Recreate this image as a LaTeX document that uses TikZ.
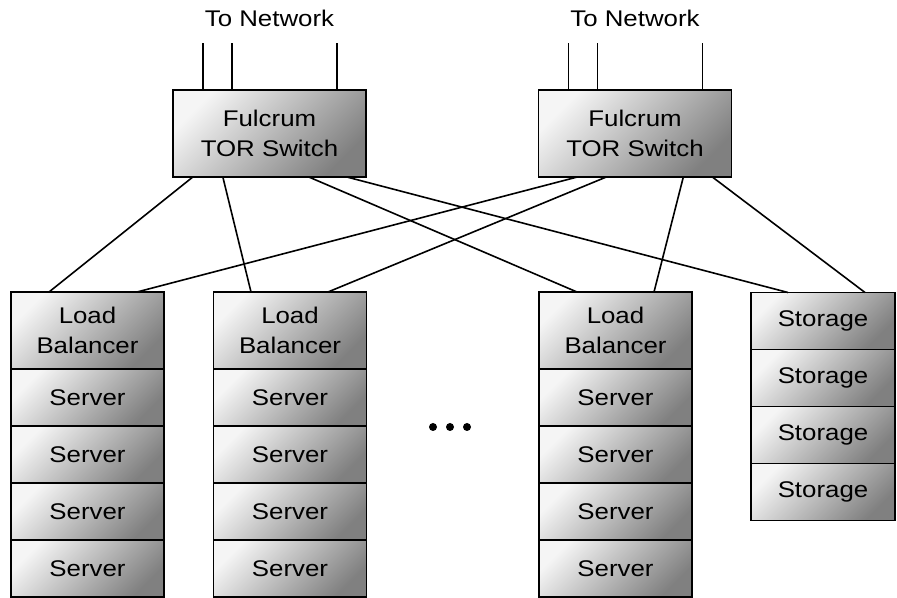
\documentclass[tikz,border=0pt]{standalone}
\usepackage{fontspec}
\setmainfont{Liberation Sans}[FakeStretch=1.14]
\usetikzlibrary{positioning,calc}

\begin{document}
\begin{tikzpicture}[x=0.75pt,y=-0.75pt,line width=1.2pt,
  unit/.style={draw,outer sep=0pt,inner sep=0pt,align=center,
    top color=white!96!black,bottom color=black!50,shading angle=45,
    font=\fontsize{17}{22.5}\selectfont},
  switch/.style={unit,minimum width=145pt,minimum height=65.25pt},
  balancer/.style={unit,minimum width=114.75pt,minimum height=57.75pt},
  server/.style={unit,minimum width=114.75pt,minimum height=42.75pt},
  storage/.style={unit,minimum width=108pt,minimum height=42.75pt},
  label/.style={font=\fontsize{17}{22.5}\selectfont}]

\useasboundingbox (0,0) rectangle (897,598);

% switches
\node[switch] (sw1) at (269.5,133.5) {Fulcrum\\TOR Switch};
\node[switch] (sw2) at (635,133.5) {Fulcrum\\TOR Switch};

% uplinks
\node[label] (net1) at (269.5,18.5) {To Network};
\node[label] (net2) at (635,18.5) {To Network};
\foreach \s in {sw1,sw2}
  \foreach \dx in {30,59,164}
    \draw ($(\s.north west)+(\dx,0)$) -- ++(0,-47);

% racks of servers
\node[balancer] (lb1) at (87.5,330.5) {Load\\Balancer};
\node[balancer] (lb2) at (290,330.5) {Load\\Balancer};
\node[balancer] (lb3) at (615.5,330.5) {Load\\Balancer};
\foreach \c in {1,2,3}{
  \node[server,below=0pt of lb\c] (srv\c-1) {Server};
  \node[server,below=0pt of srv\c-1] (srv\c-2) {Server};
  \node[server,below=0pt of srv\c-2] (srv\c-3) {Server};
  \node[server,below=0pt of srv\c-3] (srv\c-4) {Server};
}

% storage
\node[storage] (st1) at (823,321) {Storage};
\node[storage,below=0pt of st1] (st2) {Storage};
\node[storage,below=0pt of st2] (st3) {Storage};
\node[storage,below=0pt of st3] (st4) {Storage};

% links from the switches
\draw ($(sw1.south west)+(20,0)$) -- ($(lb1.north west)+(38,0)$);
\draw ($(sw1.south west)+(50,0)$) -- ($(lb2.north west)+(37.5,0)$);
\draw ($(sw1.south west)+(136,0)$) -- ($(lb3.north west)+(38,0)$);
\draw ($(sw1.south west)+(174,0)$) -- ($(st1.north west)+(37,0)$);
\draw ($(sw2.south west)+(39,0)$) -- ($(lb1.north west)+(126,0)$);
\draw ($(sw2.south west)+(68,0)$) -- ($(lb2.north west)+(114.5,0)$);
\draw ($(sw2.south west)+(145,0)$) -- ($(lb3.north west)+(115,0)$);
\draw ($(sw2.south west)+(174,0)$) -- ($(st1.north west)+(114,0)$);

% more racks
\foreach \x in {433,450,467}
  \fill (\x,427) circle (3pt);

\end{tikzpicture}
\end{document}
